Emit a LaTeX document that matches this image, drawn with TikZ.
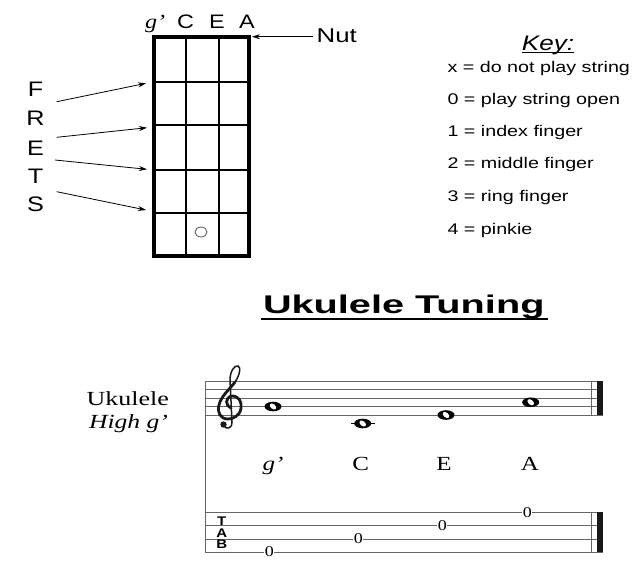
\documentclass[tikz,border=0pt]{standalone}
\usepackage{fontspec}
\setmainfont{Liberation Serif}
\newfontfamily\arialf{Liberation Sans}
\usetikzlibrary{arrows.meta}
\newcommand\fsz[1]{\fontsize{#1}{#1}\selectfont}
\begin{document}
\begin{tikzpicture}[x=1pt,y=-1pt,
  lab/.style={inner sep=0pt, outer sep=0pt},
  arr/.style={-{Stealth[length=8pt,width=5pt]}, line width=0.8pt},
  fretline/.style={line width=2.5pt},
  staffline/.style={line width=0.9pt, draw=black!60},
  barthick/.style={fill=black!90},
  tabnum/.style={inner sep=0.5pt, fill=white, font=\fsz{15}, xscale=1.2},
  headlab/.style={lab, font=\arialf\fsz{19.5}, xscale=1.2, anchor=base},
  fretlab/.style={lab, font=\arialf\fsz{21}, xscale=1.2, anchor=base},
  keyline/.style={lab, font=\arialf\fsz{15.4}, xscale=1.28, anchor=base west},
  notelab/.style={lab, font=\fsz{20}, xscale=1.25, anchor=base},
  tablab/.style={lab, font=\arialf\bfseries\fsz{12.5}, xscale=1.2, anchor=base},
  clefstroke/.style={line width=2.8pt, line cap=round, black!90},
  clefthin/.style={line width=1.5pt, line cap=round, black!90},
  wholenote/.pic={\fill (0,0) ellipse [x radius=8.5pt, y radius=4.8pt];
                  \fill[white, rotate=-40] (0,0) ellipse [x radius=3.8pt, y radius=2.4pt];}
]
\useasboundingbox (0,0) rectangle (636,563);
\fill[white] (0,0) rectangle (636,563);

% ---------- fretboard ----------
\draw[line width=3.5pt] (154,37) rectangle (249,256);
\foreach \x in {186,219} \draw[fretline] (\x,37) -- (\x,256);
\foreach \y in {82,125,170,213} \draw[fretline] (154,\y) -- (249,\y);
\draw[black!60, line width=0.9pt] (201,232) ellipse [x radius=6pt, y radius=5pt];

\node[lab, anchor=base, font=\itshape\fsz{20}, xscale=1.2] (sg) at (155,28) {g’};
\node[headlab] (sc) at (185.5,28) {C};
\node[headlab] (se) at (217,28) {E};
\node[headlab] (sa) at (247,28) {A};

\node[lab, anchor=base west, font=\arialf\fsz{20}, xscale=1.29] (nut) at (316.7,42.7) {Nut};
\coordinate (nutend) at (252,36.7);
\coordinate (nutstart) at (313,36.7);
\draw[arr] (nutstart) -- (nutend);

\node[fretlab] (F) at (35.5,96) {F};
\node[fretlab] (R) at (35.5,125) {R};
\node[fretlab] (E) at (35.5,155) {E};
\node[fretlab] (T) at (35.5,183.3) {T};
\node[fretlab] (S) at (35.5,211.7) {S};

\coordinate (a1s) at (56.7,101.7); \coordinate (a1e) at (146,83.3);
\coordinate (a2s) at (56.7,137.3); \coordinate (a2e) at (147,127.7);
\coordinate (a3s) at (55,160);     \coordinate (a3e) at (147,169.3);
\coordinate (a4s) at (56.7,191.7); \coordinate (a4e) at (146,210);
\draw[arr] (a1s) -- (a1e);
\draw[arr] (a2s) -- (a2e);
\draw[arr] (a3s) -- (a3e);
\draw[arr] (a4s) -- (a4e);

% ---------- key ----------
\node[lab, anchor=base, font=\arialf\itshape\fsz{21}, xscale=1.24] (key) at (548,50.7) {Key:};
\draw[line width=1pt] ([yshift=-2.2pt]key.base west) -- ([yshift=-2.2pt]key.base east);
\node[keyline] (k1) at (447.5,72) {x = do not play string};
\node[keyline] (k2) at (447.5,104) {0 = play string open};
\node[keyline] (k3) at (447.5,136) {1 = index finger};
\node[keyline] (k4) at (447.5,168) {2 = middle finger};
\node[keyline] (k5) at (447.5,201) {3 = ring finger};
\node[keyline] (k6) at (447.5,234) {4 = pinkie};

% ---------- title ----------
\node[lab, anchor=base west, font=\arialf\bfseries\fsz{25.6}, xscale=1.55] (title) at (263,313) {Ukulele Tuning};
\draw[line width=1.5pt] (261,319) -- (548,319);

% ---------- staff ----------
\node[lab, anchor=base east, font=\fsz{20}, xscale=1.3] (uk) at (169,405) {Ukulele};
\node[lab, anchor=base east, font=\itshape\fsz{20}, xscale=1.28] (hg) at (168,428) {High g’};

\foreach \y in {381,389.5,398,406.5,415} \draw[staffline] (205,\y) -- (602.7,\y);
\foreach \y in {512.7,525.8,539,552} \draw[staffline] (205,\y) -- (602.7,\y);
\draw[staffline] (205,381) -- (205,552);
\draw[staffline] (591.7,381) -- (591.7,415);
\draw[staffline] (591.7,512.7) -- (591.7,552);
\fill[barthick] (597.3,380.6) rectangle (602.7,415.4);
\fill[barthick] (597.3,512.3) rectangle (602.7,552.4);

% treble clef (drawn)
\draw[clefstroke] (231,408)
  .. controls (225,406) and (225,397) .. (232,396)
  .. controls (239,396) and (242,402) .. (241,408)
  .. controls (240,416) and (233,419) .. (228,419)
  .. controls (220,419) and (217,412) .. (219,405)
  .. controls (221,396) and (230,389) .. (235,382);
\draw[clefthin] (235,382)
  .. controls (240,375) and (241,367) .. (238,366)
  .. controls (234,365) and (230,372) .. (230,380)
  -- (232,422)
  .. controls (233,428) and (226,430) .. (224,426);
\fill[black!90] (223.5,424.5) circle [radius=3.2pt];

\draw[line width=0.9pt] (351,423.5) -- (374.5,423.5);
\pic at (273,406.5) {wholenote};
\pic at (362.7,423.5) {wholenote};
\pic at (446,415) {wholenote};
\pic at (530.7,402.25) {wholenote};

\node[notelab, font=\itshape\fsz{20}] (lg) at (273,470) {g’};
\node[notelab] (lc) at (360.7,470) {C};
\node[notelab] (le) at (444,470) {E};
\node[notelab] (la) at (530,470) {A};

\node[tablab] (tT) at (221.7,525) {T};
\node[tablab] (tA) at (221.7,537.5) {A};
\node[tablab] (tB) at (221.7,548.5) {B};

\node[tabnum] (z1) at (269.3,552) {0};
\node[tabnum] (z2) at (358.3,539) {0};
\node[tabnum] (z3) at (442.3,525.8) {0};
\node[tabnum] (z4) at (527.3,512.7) {0};
\end{tikzpicture}
\end{document}
